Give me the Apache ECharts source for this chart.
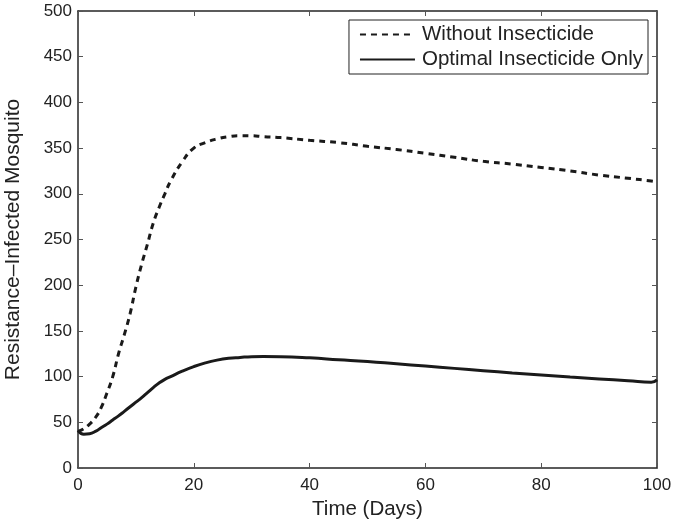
<!DOCTYPE html>
<html>
<head>
<meta charset="utf-8">
<script src="https://cdn.jsdelivr.net/npm/echarts@6/dist/echarts.min.js"></script>
<style>
html,body{margin:0;padding:0;background:#fff;}
#chart{width:688px;height:521px;}
</style>
</head>
<body>
<div id="chart"></div>
<script>
var timeDays = [0,1,2,3,4,5,6,7,8,9,10,11,12,13,14,15,16,18,20,22,24,26,28,30,32,35,40,45,50,55,60,65,70,75,80,85,90,95,99,100];
var withoutInsecticide = [40,43,48,55,66,82,100,125,146,169,198,223,245,268,285,300,314,335,350,356,360,362.5,363.6,363.5,362.5,361.5,358.5,356,352,348.5,344.3,340,335.5,332.5,328.8,325,320.5,317,314,313];
var optimalInsecticide = [41,37,37.5,40,44,48,52.5,57,62,67,72,77,82.5,88,93,97,100,106,111,115,118,120,121,121.8,122,121.8,120.5,118.5,116.5,114,111.5,109,106.5,104,101.8,99.5,97.5,95.5,93.8,96.5];
var xTicks = {min:0, max:100, interval:20};
var yTicks = {min:0, max:500, interval:50};
var seriesNames = ['Without Insecticide','Optimal Insecticide Only'];

function pairs(xs, ys){ return xs.map(function(x,i){ return [x, ys[i]]; }); }

var FONT = '"Liberation Sans", Arial, Helvetica, sans-serif';
function axisLine(){ return {show:true, onZero:false, lineStyle:{color:'#262626', width:1.5}}; }
function tick(){ return {show:true, inside:true, length:5, lineStyle:{color:'#555', width:1}}; }

var chart = echarts.init(document.getElementById('chart'), null, {renderer:'canvas'});
chart.setOption({
  backgroundColor:'#fff',
  animation:false,
  grid:{left:78, right:31, top:11, bottom:53, containLabel:false, outerBoundsMode:'none'},
  legend:{
    data:seriesNames,
    orient:'vertical',
    right:40, top:20,
    itemWidth:55, itemHeight:12, itemGap:4,
    padding:[4,5,4,10],
    backgroundColor:'#fff',
    borderColor:'#222', borderWidth:1, borderRadius:0,
    itemStyle:{opacity:0},
    textStyle:{fontFamily:FONT, fontSize:20.5, color:'#222', padding:[0,0,0,2]}
  },
  xAxis:[{
    type:'value', min:xTicks.min, max:xTicks.max, interval:xTicks.interval,
    name:'Time (Days)', nameLocation:'middle', nameGap:27,
    nameTextStyle:{fontFamily:FONT, fontSize:20.5, color:'#222'},
    axisLine:axisLine(), axisTick:tick(), splitLine:{show:false},
    axisLabel:{fontFamily:FONT, fontSize:17, color:'#222', margin:9}
  },{
    type:'value', position:'top', min:xTicks.min, max:xTicks.max, interval:xTicks.interval,
    axisLine:axisLine(), axisTick:tick(), splitLine:{show:false}, axisLabel:{show:false}
  }],
  yAxis:[{
    type:'value', min:yTicks.min, max:yTicks.max, interval:yTicks.interval,
    name:'Resistance\u2013Infected Mosquito', nameLocation:'middle', nameGap:54, nameRotate:90,
    nameTextStyle:{fontFamily:FONT, fontSize:21, color:'#222'},
    axisLine:axisLine(), axisTick:tick(), splitLine:{show:false},
    axisLabel:{fontFamily:FONT, fontSize:17, color:'#222', margin:6}
  },{
    type:'value', position:'right', min:yTicks.min, max:yTicks.max, interval:yTicks.interval,
    axisLine:axisLine(), axisTick:tick(), splitLine:{show:false}, axisLabel:{show:false}
  }],
  series:[{
    name:seriesNames[0], type:'line', data:pairs(timeDays, withoutInsecticide),
    symbol:'none', showSymbol:false, smooth:0.5,
    lineStyle:{color:'#1a1a1a', width:3, type:[6,5]},
    itemStyle:{color:'#1a1a1a'}
  },{
    name:seriesNames[1], type:'line', data:pairs(timeDays, optimalInsecticide),
    symbol:'none', showSymbol:false, smooth:0.5,
    lineStyle:{color:'#1a1a1a', width:3, type:'solid'},
    itemStyle:{color:'#1a1a1a'}
  }]
});
</script>
</body>
</html>
